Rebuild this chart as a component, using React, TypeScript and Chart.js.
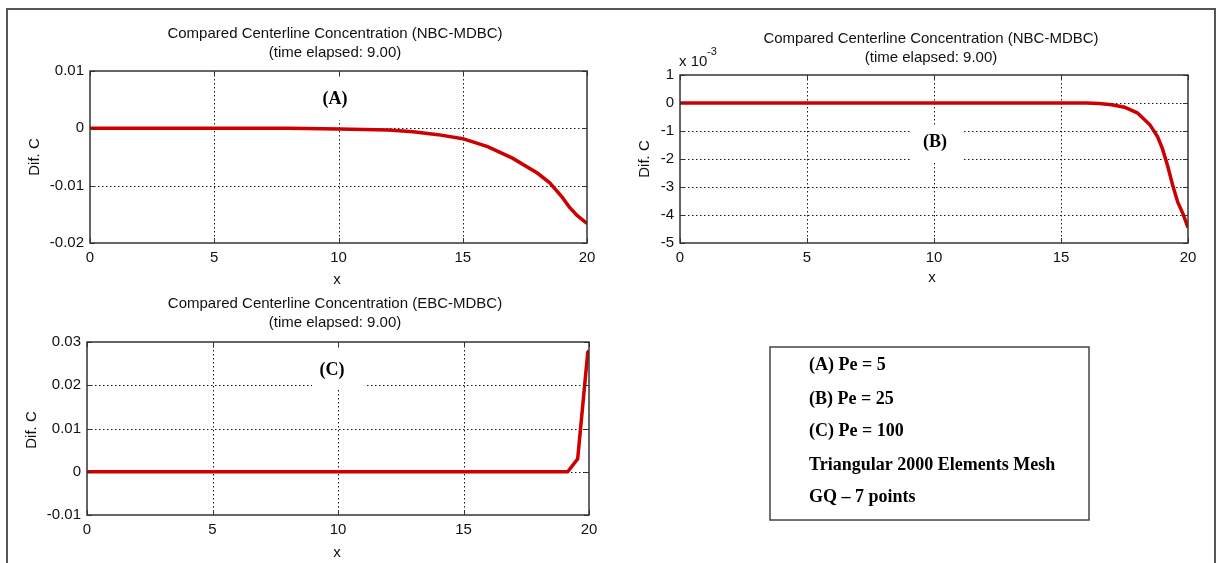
import React, { useEffect, useRef } from "react";
import { Chart, registerables } from "chart.js";

Chart.register(...registerables);

const W = 1217;
const H = 563;
const RED = "rgb(204,0,0)";
const SANS = "'Liberation Sans', Arial, sans-serif";
const SERIF = "'Liberation Serif', 'Times New Roman', serif";

// ---- Data ----
const xTicks = [0, 5, 10, 15, 20];

// (A) Pe = 5
const xA = [0, 5, 8, 10, 11, 12, 13, 14, 15, 16, 17, 18, 18.5, 19, 19.3, 19.6, 20];
const yA = [0, 0, 0, -0.0001, -0.0002, -0.0003, -0.0006, -0.0011, -0.0018, -0.0032, -0.0052, -0.0078, -0.0095, -0.012, -0.0138, -0.0152, -0.0166];
const yTicksA = [-0.02, -0.01, 0, 0.01];
const yLabelsA = ["-0.02", "-0.01", "0", "0.01"];

// (B) Pe = 25, values in units of 1e-3
const xB = [0, 5, 10, 15, 16, 16.5, 17, 17.5, 18, 18.5, 18.8, 19, 19.2, 19.4, 19.6, 19.8, 20];
const yB = [0, 0, 0, 0, 0, -0.02, -0.06, -0.15, -0.35, -0.78, -1.2, -1.65, -2.25, -2.95, -3.55, -3.95, -4.45];
const yTicksB = [-5, -4, -3, -2, -1, 0, 1];
const yLabelsB = ["-5", "-4", "-3", "-2", "-1", "0", "1"];

// (C) Pe = 100
const xC = [0, 5, 10, 15, 19, 19.15, 19.55, 19.95, 20];
const yC = [0, 0, 0, 0, 0, 0, 0.003, 0.0276, 0.028];
const yTicksC = [-0.01, 0, 0.01, 0.02, 0.03];
const yLabelsC = ["-0.01", "0", "0.01", "0.02", "0.03"];

const titleNBC = "Compared Centerline Concentration (NBC-MDBC)";
const titleEBC = "Compared Centerline Concentration (EBC-MDBC)";
const titleTime = "(time elapsed: 9.00)";
const xLabel = "x";
const yLabel = "Dif. C";
const legendLines = ["(A) Pe = 5", "(B) Pe = 25", "(C) Pe = 100", "Triangular 2000 Elements Mesh", "GQ \u2013 7 points"];

type Panel = {
  xs: number[];
  ys: number[];
  yTicks: number[];
  yLabels: string[];
  area: { left: number; top: number; right: number; bottom: number };
  title: string;
  titlePos: [number, number, number];
  tag: string;
  tagPos: [number, number];
  tagBox: [number, number, number, number];
  xLabelPos: [number, number];
  yLabelPos: [number, number];
  exponent?: boolean;
  decor?: boolean;
};

const panels: Panel[] = [
  {
    xs: xA, ys: yA, yTicks: yTicksA, yLabels: yLabelsA,
    area: { left: 90, top: 71, right: 587, bottom: 243 },
    title: titleNBC, titlePos: [335, 34, 53],
    tag: "(A)", tagPos: [335, 99], tagBox: [318, 78, 352, 120],
    xLabelPos: [337, 280], yLabelPos: [35, 157],
  },
  {
    xs: xB, ys: yB, yTicks: yTicksB, yLabels: yLabelsB,
    area: { left: 680, top: 75, right: 1188, bottom: 243 },
    title: titleNBC, titlePos: [931, 39, 58],
    tag: "(B)", tagPos: [935, 142], tagBox: [910, 125, 963, 161],
    xLabelPos: [932, 278], yLabelPos: [645, 159],
    exponent: true,
  },
  {
    xs: xC, ys: yC, yTicks: yTicksC, yLabels: yLabelsC,
    area: { left: 87, top: 342, right: 589, bottom: 515 },
    title: titleEBC, titlePos: [335, 304, 323],
    tag: "(C)", tagPos: [332, 370], tagBox: [312, 350, 367, 388],
    xLabelPos: [337, 553], yLabelPos: [32, 430],
    decor: true,
  },
];

const YW = 40;
const XH = 30;

function panelPlugin(p: Panel) {
  return {
    id: "panelDecor",
    beforeDatasetsDraw(chart: any) {
      const ctx = chart.ctx as CanvasRenderingContext2D;
      const { left, right, top, bottom } = chart.chartArea;
      const xs = chart.scales.x;
      const ys = chart.scales.y;
      ctx.save();
      ctx.strokeStyle = "#1a1a1a";
      ctx.lineWidth = 1;
      ctx.setLineDash([1.5, 2.5]);
      xTicks.slice(1, -1).forEach((v) => {
        const px = Math.round(xs.getPixelForValue(v)) + 0.5;
        ctx.beginPath();
        ctx.moveTo(px, top);
        ctx.lineTo(px, bottom);
        ctx.stroke();
      });
      p.yTicks.slice(1, -1).forEach((v) => {
        const py = Math.round(ys.getPixelForValue(v)) + 0.5;
        ctx.beginPath();
        ctx.moveTo(left, py);
        ctx.lineTo(right, py);
        ctx.stroke();
      });
      ctx.setLineDash([]);
      // tag with white background
      const [bx0, by0, bx1, by1] = p.tagBox;
      ctx.fillStyle = "#fff";
      ctx.fillRect(bx0, by0, bx1 - bx0, by1 - by0);
      ctx.fillStyle = "#000";
      ctx.font = `bold 18px ${SERIF}`;
      ctx.textAlign = "center";
      ctx.textBaseline = "middle";
      ctx.fillText(p.tag, p.tagPos[0], p.tagPos[1]);
      ctx.restore();
    },
    afterDatasetsDraw(chart: any) {
      const ctx = chart.ctx as CanvasRenderingContext2D;
      const { left, right, top, bottom } = chart.chartArea;
      const xs = chart.scales.x;
      const ys = chart.scales.y;
      ctx.save();
      // axes box
      ctx.strokeStyle = "#333";
      ctx.lineWidth = 1.5;
      ctx.strokeRect(left, top, right - left, bottom - top);
      // inward tick marks
      ctx.lineWidth = 1;
      const tl = 5;
      xTicks.forEach((v) => {
        const px = Math.round(xs.getPixelForValue(v)) + 0.5;
        ctx.beginPath();
        ctx.moveTo(px, bottom);
        ctx.lineTo(px, bottom - tl);
        ctx.moveTo(px, top);
        ctx.lineTo(px, top + tl);
        ctx.stroke();
      });
      p.yTicks.forEach((v) => {
        const py = Math.round(ys.getPixelForValue(v)) + 0.5;
        ctx.beginPath();
        ctx.moveTo(left, py);
        ctx.lineTo(left + tl, py);
        ctx.moveTo(right, py);
        ctx.lineTo(right - tl, py);
        ctx.stroke();
      });
      // titles
      ctx.fillStyle = "#111";
      ctx.font = `15px ${SANS}`;
      ctx.textAlign = "center";
      ctx.textBaseline = "middle";
      ctx.fillText(p.title, p.titlePos[0], p.titlePos[1]);
      ctx.fillText(titleTime, p.titlePos[0], p.titlePos[2]);
      ctx.fillText(xLabel, p.xLabelPos[0], p.xLabelPos[1]);
      ctx.save();
      ctx.translate(p.yLabelPos[0], p.yLabelPos[1]);
      ctx.rotate(-Math.PI / 2);
      ctx.fillText(yLabel, 0, 0);
      ctx.restore();
      if (p.exponent) {
        ctx.textAlign = "left";
        ctx.font = `15px ${SANS}`;
        ctx.fillText("x 10", 679, 62);
        ctx.font = `11px ${SANS}`;
        ctx.fillText("-3", 707, 52);
      }
      if (p.decor) {
        // outer frame
        ctx.strokeStyle = "#555";
        ctx.lineWidth = 2;
        ctx.beginPath();
        ctx.moveTo(7, H + 5);
        ctx.lineTo(7, 9);
        ctx.lineTo(1215, 9);
        ctx.lineTo(1215, H + 5);
        ctx.stroke();
        // legend box
        ctx.strokeStyle = "#444";
        ctx.lineWidth = 1.5;
        ctx.strokeRect(770, 347, 319, 173);
        ctx.fillStyle = "#000";
        ctx.font = `bold 18px ${SERIF}`;
        ctx.textAlign = "left";
        ctx.textBaseline = "middle";
        const ly = [365, 399, 431, 465, 497];
        legendLines.forEach((t, i) => ctx.fillText(t, 809, ly[i]));
      }
      ctx.restore();
    },
  };
}

function PanelChart({ p }: { p: Panel }) {
  const ref = useRef<HTMLCanvasElement>(null);
  useEffect(() => {
    if (!ref.current) return;
    const { area } = p;
    const yMin = p.yTicks[0];
    const yMax = p.yTicks[p.yTicks.length - 1];
    const chart = new Chart(ref.current, {
      type: "line",
      data: {
        datasets: [
          {
            data: p.xs.map((x, i) => ({ x, y: p.ys[i] })),
            borderColor: RED,
            backgroundColor: RED,
            borderWidth: 3.5,
            pointRadius: 0,
            tension: 0,
            fill: false,
          },
        ],
      },
      options: {
        animation: false,
        responsive: false,
        maintainAspectRatio: false,
        events: [],
        layout: {
          padding: {
            left: area.left - YW,
            right: W - area.right,
            top: area.top,
            bottom: H - area.bottom - XH,
          },
        },
        plugins: {
          legend: { display: false },
          tooltip: { enabled: false },
          title: { display: false },
        },
        scales: {
          x: {
            type: "linear",
            min: 0,
            max: 20,
            afterFit: (s: any) => {
              s.height = XH;
            },
            afterBuildTicks: (s: any) => {
              s.ticks = xTicks.map((v) => ({ value: v }));
            },
            grid: { display: false, drawTicks: false },
            border: { display: false },
            ticks: {
              color: "#111",
              font: { family: SANS, size: 15 },
              padding: 6,
              maxRotation: 0,
              autoSkip: false,
              callback: (v: any) => String(v),
            },
          },
          y: {
            type: "linear",
            min: yMin,
            max: yMax,
            afterFit: (s: any) => {
              s.width = YW;
            },
            afterBuildTicks: (s: any) => {
              s.ticks = p.yTicks.map((v) => ({ value: v }));
            },
            grid: { display: false, drawTicks: false },
            border: { display: false },
            ticks: {
              color: "#111",
              font: { family: SANS, size: 15 },
              padding: 6,
              autoSkip: false,
              callback: (v: any) => {
                const i = p.yTicks.findIndex((t) => Math.abs(t - v) < 1e-9);
                return i >= 0 ? p.yLabels[i] : "";
              },
            },
          },
        },
      } as any,
      plugins: [panelPlugin(p)],
    });
    return () => chart.destroy();
  }, [p]);
  return (
    <canvas
      ref={ref}
      width={W}
      height={H}
      style={{ position: "absolute", left: 0, top: 0, width: W, height: H }}
    />
  );
}

export default function App() {
  return (
    <div
      style={{
        position: "fixed",
        left: 0,
        top: 0,
        width: W,
        height: H,
        background: "#fff",
        overflow: "hidden",
      }}
    >
      {panels.map((p, i) => (
        <PanelChart key={i} p={p} />
      ))}
    </div>
  );
}
